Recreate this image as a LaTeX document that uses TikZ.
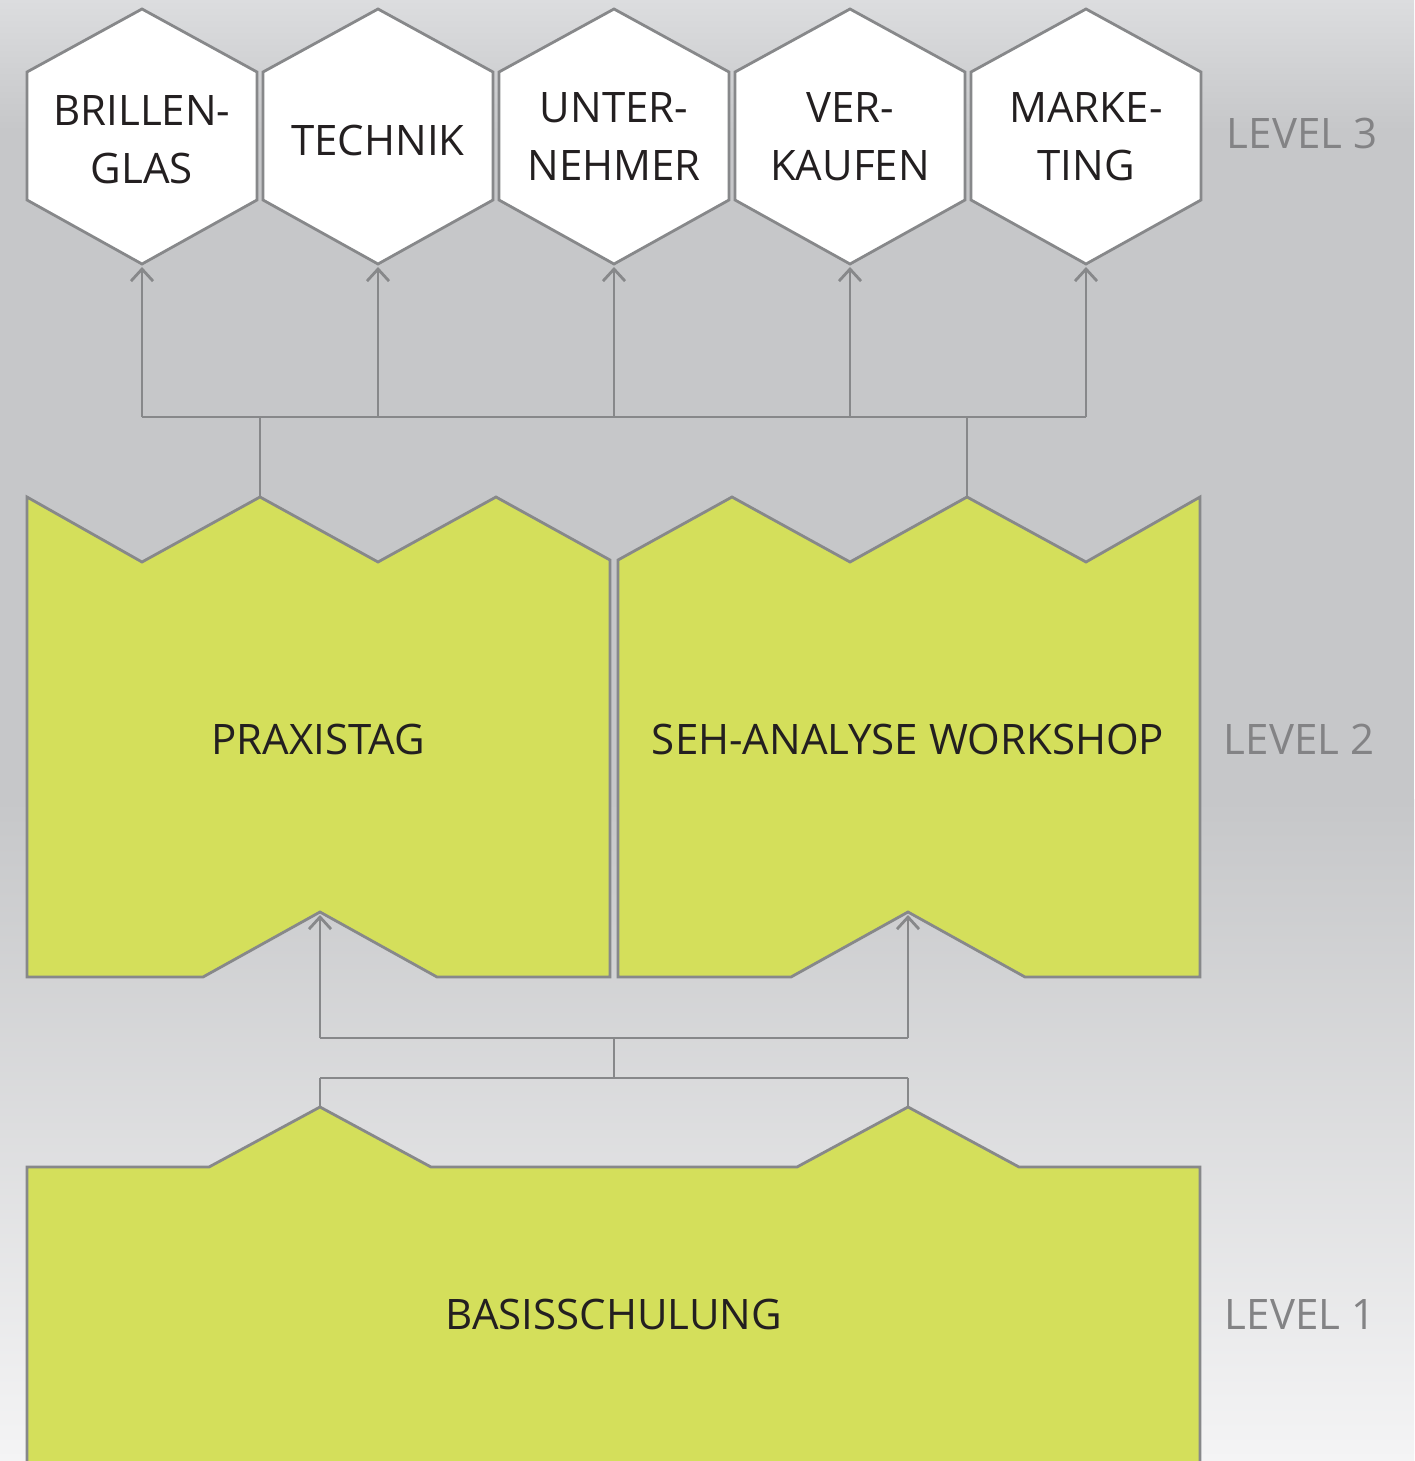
\documentclass[tikz,border=0pt]{standalone}
\usepackage{fontspec}
\setmainfont{Open Sans}
\usetikzlibrary{arrows.meta}
\definecolor{linegray}{HTML}{87888A}
\definecolor{lime}{HTML}{D4DF5B}
\definecolor{txt}{HTML}{231F20}
\definecolor{lvl}{HTML}{838385}
\definecolor{bgtop}{HTML}{DCDDDF}
\definecolor{bgmid}{HTML}{C6C7C9}
\definecolor{bgbot}{HTML}{F4F4F5}
\tikzset{
  conn/.style={draw=linegray, line width=1.4pt},
  arr/.style={conn, -{Straight Barb[length=6pt,width=11pt,line width=1.4pt]}},
  hexshape/.style={fill=white, draw=linegray, line width=1.4pt, line join=miter},
  greenshape/.style={fill=lime, draw=linegray, line width=1.4pt, line join=miter},
  hextext/.style={text=txt, font=\fontsize{21}{29}\selectfont, align=center, inner sep=0pt},
  bigtext/.style={text=txt, font=\fontsize{21}{29}\selectfont, inner sep=0pt},
  leveltext/.style={text=lvl, font=\fontsize{21}{29}\selectfont, inner sep=0pt},
}
\begin{document}
\begin{tikzpicture}[x=0.5pt,y=-0.5pt]
\useasboundingbox (0,0) rectangle (1414,1461);
% background
\shade[top color=bgtop, bottom color=bgmid] (0,0) rectangle (1414,130);
\fill[bgmid] (0,129) rectangle (1414,800);
\shade[top color=bgmid, bottom color=bgbot] (0,799) rectangle (1414,1461);

% hexagons
\foreach \cx in {142,378,614,850,1086}{
  \path[hexshape] (\cx,9) -- (\cx+115,72) -- (\cx+115,200) -- (\cx,264) -- (\cx-115,200) -- (\cx-115,72) -- cycle;
}
\node[hextext] (h1) at (142,140) {BRILLEN-\\GLAS};
\node[hextext] (h2) at (378,140) {TECHNIK};
\node[hextext] (h3) at (614,137) {UNTER-\\NEHMER};
\node[hextext] (h4) at (850,137) {VER-\\KAUFEN};
\node[hextext] (h5) at (1086,137) {MARKE-\\TING};
\foreach \i/\cx in {1/142,2/378,3/614,4/850,5/1086}{
  \coordinate (hb\i) at (\cx,267);
  \coordinate (bus\i) at (\cx,417);
}

% level 2 shapes
\path[greenshape] (27,497) -- (142,562) -- (260,497) -- (378,562) -- (496,497) -- (610,560)
  -- (610,977) -- (437,977) -- (320,912) -- (203,977) -- (27,977) -- cycle;
\path[greenshape] (618,560) -- (732,497) -- (850,562) -- (967,497) -- (1086,562) -- (1200,497)
  -- (1200,977) -- (1025,977) -- (908,912) -- (791,977) -- (618,977) -- cycle;
\coordinate (pTop) at (260,497);
\coordinate (wTop) at (967,497);
\coordinate (pBot) at (320,915);
\coordinate (wBot) at (908,915);
\node[bigtext] (praxis) at (318,739) {PRAXISTAG};
\node[bigtext] (seh) at (908,739) {SEH-ANALYSE WORKSHOP};

% level 1 shape
\path[greenshape] (27,1475) -- (27,1167) -- (209,1167) -- (320,1107) -- (431,1167) -- (797,1167)
  -- (908,1107) -- (1019,1167) -- (1200,1167) -- (1200,1475);
\coordinate (bTopL) at (320,1107);
\coordinate (bTopR) at (908,1107);
\node[bigtext] (basis) at (614,1314) {BASISSCHULUNG};

% level labels
\node[leveltext] (l3) at (1302,133) {LEVEL 3};
\node[leveltext] (l2) at (1299,739) {LEVEL 2};
\node[leveltext] (l1) at (1300,1314) {LEVEL 1};

% connectors level 2 -> level 3
\draw[conn] (bus1) -- (bus5);
\foreach \i in {1,...,5}{ \draw[arr] (bus\i) -- (hb\i); }
\draw[conn] (bus1 -| pTop) -- (pTop);
\draw[conn] (bus1 -| wTop) -- (wTop);

% connectors level 1 -> level 2
\coordinate (u1) at (320,1038);
\coordinate (u2) at (908,1038);
\coordinate (um) at (614,1038);
\coordinate (d1) at (320,1078);
\coordinate (d2) at (908,1078);
\coordinate (dm) at (614,1078);
\draw[conn] (u1) -- (u2);
\draw[arr] (u1) -- (pBot);
\draw[arr] (u2) -- (wBot);
\draw[conn] (um) -- (dm);
\draw[conn] (d1) -- (d2);
\draw[conn] (d1) -- (bTopL);
\draw[conn] (d2) -- (bTopR);
\end{tikzpicture}
\end{document}
